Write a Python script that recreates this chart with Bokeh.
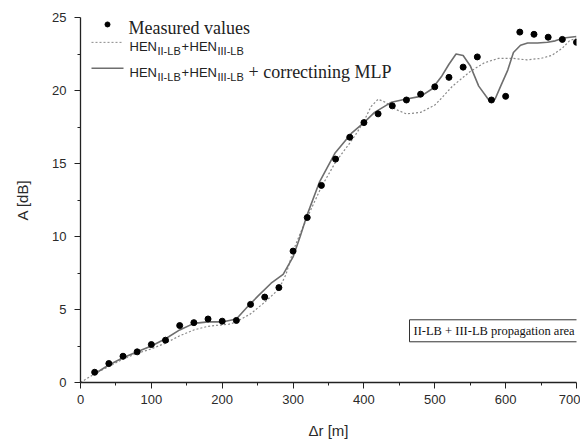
from bokeh.plotting import figure
from bokeh.models import Range1d, Label, FixedTicker
from bokeh.embed import file_html
from bokeh.resources import INLINE

# ---------------- data ----------------
r_measured = [20, 40, 60, 80, 100, 120, 140, 160, 180, 200, 220, 240, 260, 280,
              300, 320, 340, 360, 380, 400, 420, 440, 460, 480, 500, 520, 540,
              560, 580, 600, 620, 640, 660, 680, 700]
a_measured = [0.7, 1.3, 1.8, 2.1, 2.6, 2.9, 3.9, 4.1, 4.35, 4.2, 4.25, 5.35, 5.85, 6.5,
              9.0, 11.3, 13.5, 15.3, 16.8, 17.8, 18.4, 18.95, 19.35, 19.75, 20.25, 20.9, 21.6,
              22.3, 19.35, 19.6, 24.0, 23.85, 23.65, 23.5, 23.3]

r_hen = [0, 20, 40, 60, 80, 100, 120, 140, 160, 180, 200, 210, 220, 240, 260, 280,
         290, 300, 310, 320, 340, 360, 380, 390, 400, 410, 420, 430, 445, 460, 480,
         500, 510, 525, 550, 570, 590, 610, 630, 650, 665, 680, 690, 700]
a_hen = [0.0, 0.6, 1.1, 1.6, 2.0, 2.3, 2.7, 3.2, 3.6, 3.85, 3.95, 4.0, 4.15, 4.7, 5.5, 6.4,
         7.4, 9.0, 10.2, 11.3, 13.4, 15.1, 16.4, 17.1, 17.9, 18.9, 19.4, 19.2, 18.7, 18.4, 18.5,
         19.0, 19.5, 20.3, 21.3, 21.9, 22.2, 22.2, 22.1, 22.2, 22.4, 22.9, 23.4, 23.6]

r_mlp = [20, 40, 60, 80, 100, 120, 140, 160, 180, 200, 220, 236, 250, 269, 286,
         300, 310, 320, 337, 359, 383, 400, 415, 439, 458, 480, 496, 510, 520, 530,
         540, 550, 562, 577, 585, 593, 603, 611, 621, 631, 645, 659, 670, 682, 700]
a_mlp = [0.6, 1.2, 1.7, 2.1, 2.5, 3.0, 3.6, 4.05, 4.15, 4.15, 4.35, 5.2, 5.9, 6.8, 7.4,
         8.6, 10.0, 11.5, 13.7, 15.7, 17.1, 17.8, 18.5, 19.2, 19.4, 19.6, 20.1, 21.0, 21.8, 22.5,
         22.4, 21.7, 20.3, 19.3, 19.4, 20.3, 21.4, 22.6, 23.1, 23.25, 23.25, 23.3, 23.4, 23.6, 23.7]

x_ticks = [0, 100, 200, 300, 400, 500, 600, 700]
y_ticks = [0, 5, 10, 15, 20, 25]

# ---------------- layout ----------------
W, H = 580, 441
FL, FT = 80, 17         # frame offset inside the canvas
FW, FH = 496, 367       # frame size
XMAX, YMAX = x_ticks[-1], y_ticks[-1]


def X(px):  # canvas pixel -> data x
    return (px - FL) / FW * XMAX


def Y(py):  # canvas pixel -> data y
    return (FT + FH - py) / FH * YMAX


p = figure(width=W, height=H, x_range=Range1d(0, XMAX), y_range=Range1d(0, YMAX),
           output_backend="svg", toolbar_location=None,
           min_border_left=FL, min_border_right=W - FL - FW,
           min_border_top=FT, min_border_bottom=H - FT - FH)
p.outline_line_color = None
p.xgrid.visible = False
p.ygrid.visible = False
p.background_fill_color = "white"
p.border_fill_color = "white"

x_minor = [(a + b) / 2 for a, b in zip(x_ticks[:-1], x_ticks[1:])]
y_minor = [(a + b) / 2 for a, b in zip(y_ticks[:-1], y_ticks[1:])]
p.xaxis.ticker = FixedTicker(ticks=x_ticks, minor_ticks=x_minor)
p.yaxis.ticker = FixedTicker(ticks=y_ticks, minor_ticks=y_minor)

for ax in (p.xaxis[0], p.yaxis[0]):
    ax.axis_line_color = "#222222"
    ax.axis_line_width = 1.3
    ax.major_tick_line_color = "#222222"
    ax.minor_tick_line_color = "#222222"
    ax.major_tick_out = 6
    ax.major_tick_in = 0
    ax.minor_tick_out = 3
    ax.minor_tick_in = 0
    ax.major_label_text_font = "Liberation Sans"
    ax.major_label_text_font_size = "13px"
    ax.major_label_text_color = "#2a2a2a"
    ax.major_label_standoff = 6
    ax.axis_label_text_font = "Liberation Sans"
    ax.axis_label_text_font_size = "15px"
    ax.axis_label_text_font_style = "normal"
    ax.axis_label_text_color = "#2a2a2a"
p.yaxis.major_label_standoff = 8
p.xaxis.axis_label = "Δr [m]"
p.yaxis.axis_label = "A [dB]"
p.xaxis.axis_label_standoff = 15
p.yaxis.axis_label_standoff = 18

# ---------------- data marks ----------------
p.line(r_hen, a_hen, line_color="#8a8a8a", line_width=1.2, line_dash="2 2")
p.line(r_mlp, a_mlp, line_color="#6e6e6e", line_width=1.6)
p.scatter(r_measured, a_measured, size=6, fill_color="black", line_color="black")

# ---------------- legend (manual) ----------------
p.scatter([X(107)], [Y(24)], size=5, fill_color="black", line_color="black")
p.line([X(91), X(123)], [Y(42), Y(42)], line_color="#8a8a8a", line_width=1.0, line_dash="2 2")
p.line([X(91), X(123)], [Y(68), Y(68)], line_color="#6e6e6e", line_width=1.6)

SERIF = "Liberation Serif"
SANS = "Liberation Sans"


def txt(t, px, py, font, size, style="normal", align="left", color="#222222"):
    p.add_layout(Label(x=X(px), y=Y(py), text=t, text_font=font, text_font_size=size,
                       text_font_style=style, text_align=align, text_baseline="alphabetic",
                       text_color=color))


txt("Measured values", 128, 28, SERIF, "18px")
for row_y in (46, 72):
    txt("HEN", 129, row_y, SANS, "13px")
    txt("II-LB", 157, row_y + 5, SANS, "11px")
    txt("+", 181, row_y, SANS, "13px")
    txt("HEN", 189, row_y, SANS, "13px")
    txt("III-LB", 217, row_y + 5, SANS, "11px")
txt("+ correctining MLP", 248, 72, SERIF, "18px")

# annotation box
p.add_layout(Label(x=X(409), y=Y(332), text="II-LB + III-LB propagation area",
                   text_font=SERIF, text_font_size="12.5px", text_baseline="middle",
                   text_align="left", text_color="#111111",
                   border_line_color="#333333", border_line_width=1,
                   background_fill_color="white", padding=4))

open("out.html", "w").write(file_html(p, INLINE))
